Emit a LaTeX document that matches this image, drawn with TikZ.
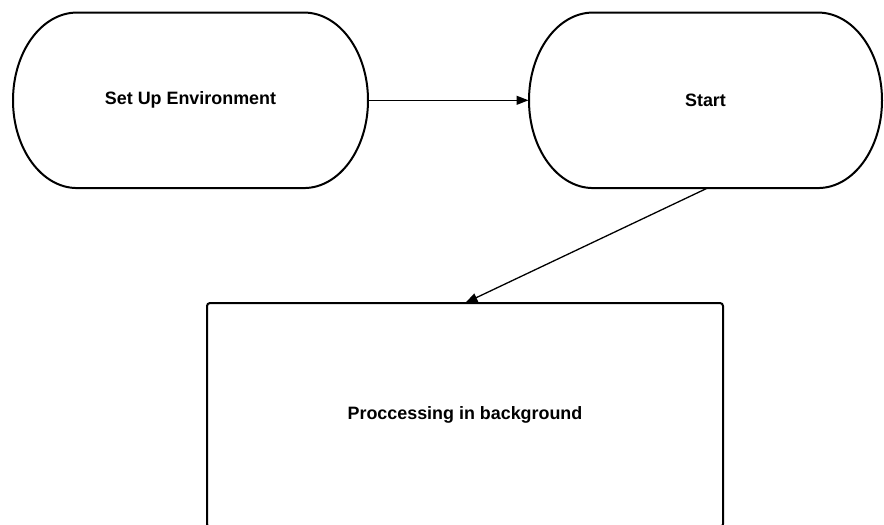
\documentclass[tikz,border=0pt]{standalone}
\usepackage{fontspec}
\setmainfont{Liberation Sans}
\usetikzlibrary{arrows.meta}
\begin{document}
\begin{tikzpicture}[x=1pt,y=1pt,
  lbl/.style={font=\bfseries\fontsize{17.9}{20}\selectfont, text=black},
  termbox/.style={lbl, minimum width=355pt, minimum height=175.5pt, inner sep=0pt, outer sep=0pt},
  procbox/.style={lbl, draw=black, line width=2pt, rounded corners=3pt, minimum width=516pt, minimum height=224pt, inner sep=0pt, outer sep=0pt},
  conn/.style={draw=black, line width=1.3pt, -{Triangle[length=12pt,width=9pt]}, shorten >=0.5pt}
]
\useasboundingbox (0,0) rectangle (884,-525);
\fill[white] (0,0) rectangle (884,-525);

\node[termbox] (setup) at (190.5,-100.3) {Set Up Environment};
\node[termbox, minimum width=353pt] (start) at (705.5,-100.3) {Start};
\node[procbox] (proc) at (465,-415) {Proccessing in background};

\foreach \n in {setup,start}{
  \draw[line width=2pt]
    ([xshift=64pt]\n.north west) -- ([xshift=-64pt]\n.north east)
    arc[start angle=90, end angle=-90, x radius=64pt, y radius=87.75pt]
    -- ([xshift=64pt]\n.south west)
    arc[start angle=270, end angle=90, x radius=64pt, y radius=87.75pt] -- cycle;
}

\draw[conn] ([xshift=2pt]start.south) -- (proc.north);
\draw[conn] (setup.east) -- (start.west);
\end{tikzpicture}
\end{document}
